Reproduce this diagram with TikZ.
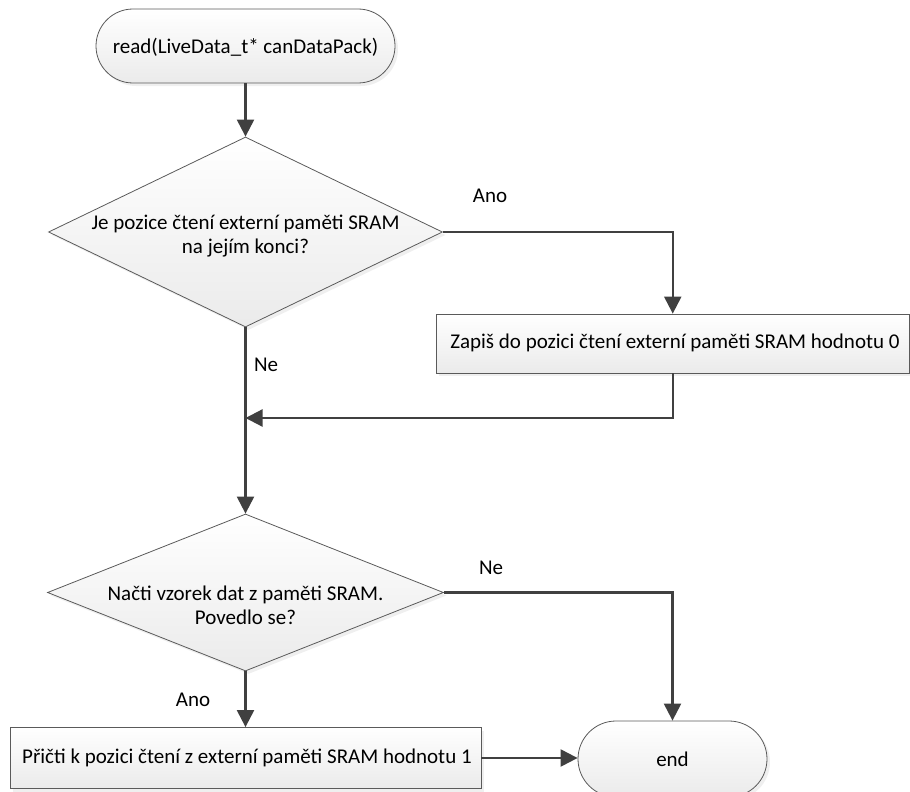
\documentclass[tikz,border=0pt]{standalone}
\usepackage{fontspec}
\setmainfont{Carlito}
\usetikzlibrary{arrows.meta,shapes.geometric,shadows}
\definecolor{connc}{HTML}{404040}
\definecolor{edgec}{HTML}{5A5A5A}
\tikzset{
  shp/.style={draw=edgec, line width=0.8pt, shading=axis, top color=white, bottom color=black!8,
    drop shadow={shadow xshift=3pt, shadow yshift=-3pt, fill=black!12}, inner sep=0pt},
  term/.style={shp, rectangle},
  proc/.style={shp, rectangle},
  dec/.style={shp, diamond},
  txt/.style={font=\fontsize{21}{24}\selectfont, align=center, inner sep=0pt},
  lbl/.style={font=\fontsize{21}{24}\selectfont, inner sep=0pt},
  conn/.style={draw=connc, line width=2.2pt, -{Triangle[length=17pt,width=17pt]}},
  plain/.style={draw=connc, line width=2.2pt}
}
\begin{document}
\begin{tikzpicture}[x=1pt,y=-1pt]
\useasboundingbox (0,0) rectangle (910,792);
% shapes
\node[term, rounded corners=37pt, minimum width=299pt, minimum height=74pt] (start) at (245.5,46) {};
\node[txt] (starttxt) at (245.5,47) {read(LiveData\_t* canDataPack)};
\node[dec, minimum width=394pt, minimum height=190pt] (d1) at (245.5,232) {};
\node[txt] (d1txt) at (245.5,236) {Je pozice čtení externí paměti SRAM\\na jejím konci?};
\node[proc, minimum width=473.5pt, minimum height=59pt] (box1) at (672.75,343.5) {};
\node[txt] (box1txt) at (675,343) {Zapiš do pozici čtení externí paměti SRAM hodnotu 0};
\node[dec, minimum width=396pt, minimum height=157pt] (d2) at (245.5,592.5) {};
\node[txt] (d2txt) at (245.5,605) {Načti vzorek dat z paměti SRAM.\\Povedlo se?};
\node[proc, minimum width=471pt, minimum height=61pt] (box2) at (245.5,758) {};
\node[txt] (box2txt) at (247,758) {Přičti k pozici čtení z externí paměti SRAM hodnotu 1};
\node[term, rounded corners=38pt, minimum width=189pt, minimum height=76pt] (end) at (672.5,759) {};
\node[txt] (endtxt) at (672.5,759) {end};
% connectors
\coordinate (j1) at (245.5,418);
\draw[conn] (start.south) -- (d1.north);
\draw[conn] (d1.east) -| (box1.north);
\draw[conn] (box1.south) |- (j1);
\draw[conn] (d1.south) -- (d2.north);
\draw[conn] (d2.east) -| (end.north);
\draw[conn] (d2.south) -- (box2.north);
\draw[conn] (box2.east) -- (box2.east -| end.west);
% labels
\node[lbl] (l1) at (490,196) {Ano};
\node[lbl] (l2) at (266,365) {Ne};
\node[lbl] (l3) at (491,568) {Ne};
\node[lbl] (l4) at (193,700) {Ano};
\end{tikzpicture}
\end{document}
